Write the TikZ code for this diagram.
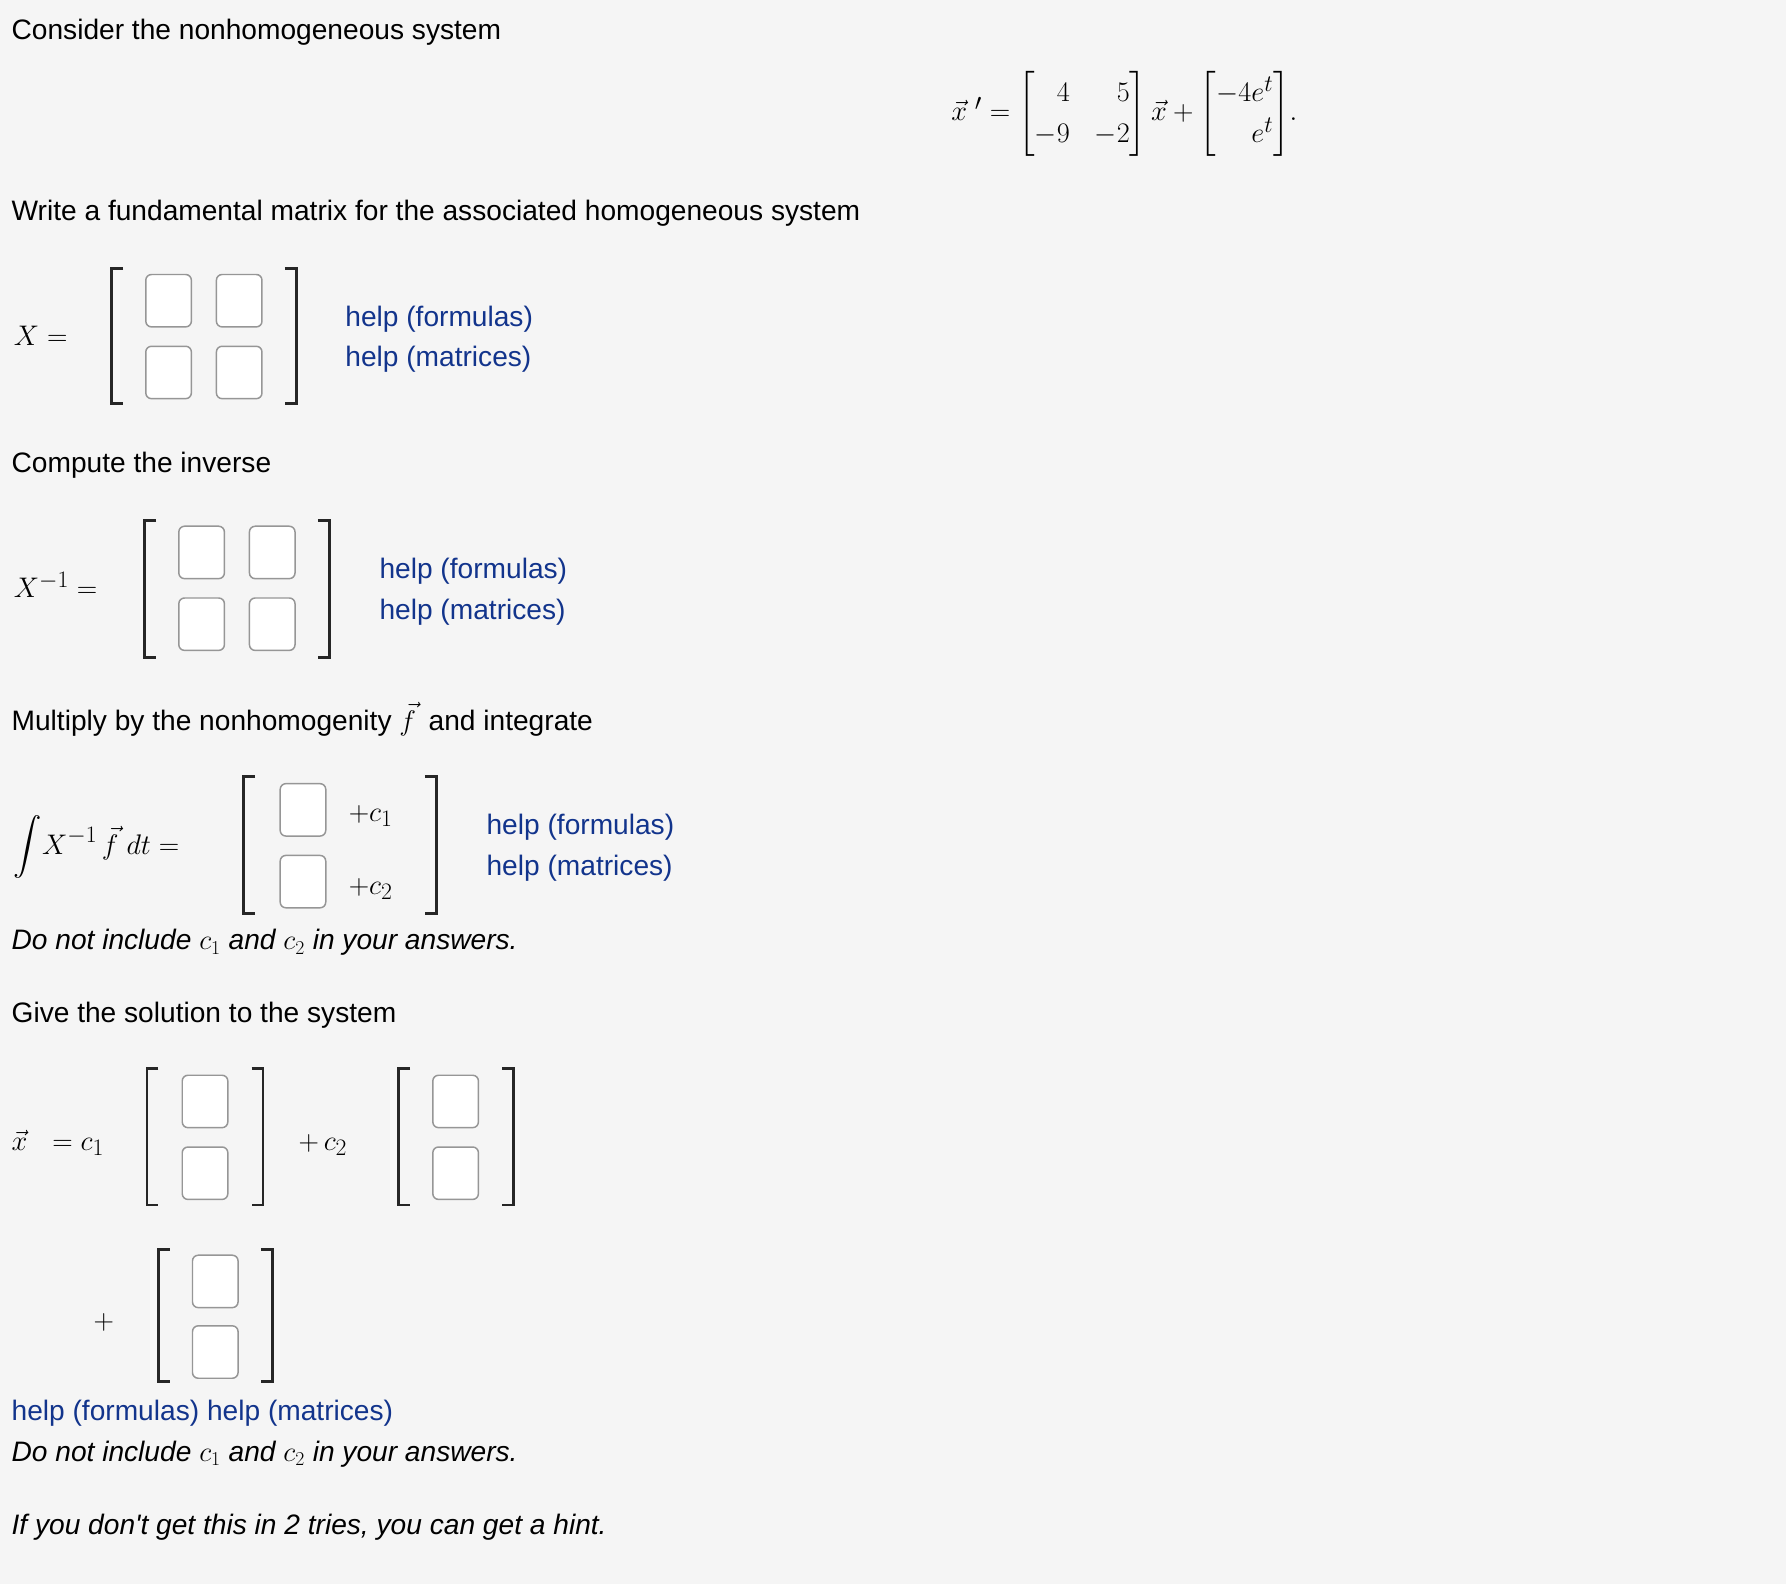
\documentclass[tikz,border=0pt]{standalone}
\usepackage{amsmath}
\usepackage{fontspec}
\setmainfont{Liberation Sans}
\definecolor{bg}{RGB}{245,245,245}
\definecolor{lnk}{RGB}{18,52,140}
\definecolor{bx}{RGB}{150,150,150}
\tikzset{
 ib/.style={draw=bx,line width=1.3pt,rounded corners=5pt,minimum width=40pt,minimum height=46pt,inner sep=0pt,fill=white},
 tx/.style={anchor=base west,inner sep=0pt,font=\fontsize{24.7}{29}\selectfont},
 mt/.style={anchor=base west,inner sep=0pt,font=\fontsize{29}{33}\selectfont},
 lk/.style={tx,text=lnk},
 brk/.style={line width=2.4pt,black!85}
}
\newcommand{\brk}[4]{% x1 x2 ytop ybot
 \draw[brk] (#1+10,#3)--(#1,#3)--(#1,#4)--(#1+10,#4);
 \draw[brk] (#2-10,#3)--(#2,#3)--(#2,#4)--(#2-10,#4);}
\begin{document}
\begin{tikzpicture}[x=1pt,y=-1pt]
\fill[bg] (0,0) rectangle (1568,1391);
\useasboundingbox (0,0) rectangle (1568,1391);
\node[tx] (t1) at (10,35) {Consider the nonhomogeneous system};
\node[anchor=west,inner sep=0pt,font=\fontsize{31}{36}\selectfont] (eq) at (835,100)
 {\setlength{\arraycolsep}{11pt}$\vec x\;'=\begin{bmatrix}\hfill4&\hfill5\\-9&-2\end{bmatrix}\vec x+\begin{bmatrix}-4e^t\\ \hfill e^t\end{bmatrix}\!.$};
\node[tx] (t2) at (10,194) {Write a fundamental matrix for the associated homogeneous system};
\node[mt] (l1) at (12,303) {$X=$};
\brk{98}{260}{236}{354}
\foreach \x/\y [count=\i] in {148/264,210/264,148/327,210/327} \node[ib] (a\i) at (\x,\y) {};
\node[lk] (h1) at (303,287) {help (formulas)};
\node[lk] (h2) at (303,322) {help (matrices)};
\node[tx] (t3) at (10,415) {Compute the inverse};
\node[mt] (l2) at (12,525) {$X^{-1}=$};
\brk{127}{289}{457}{577}
\foreach \x/\y [count=\i] in {177/485,239/485,177/548,239/548} \node[ib] (b\i) at (\x,\y) {};
\node[lk] (h3) at (333,508) {help (formulas)};
\node[lk] (h4) at (333,544) {help (matrices)};
\node[tx] (t4) at (10,641) {Multiply by the nonhomogenity $\vec f$\, and integrate};
\node[mt] (l3) at (12,750) {$\displaystyle\int\! X^{-1}\,\vec f\;dt=$};
\brk{214}{383}{682}{802}
\node[ib] (c1) at (266,711) {};
\node[ib] (c2) at (266,774) {};
\node[mt] (p1) at (306,721) {$+c_1$};
\node[mt] (p2) at (306,785) {$+c_2$};
\node[lk] (h5) at (427,733) {help (formulas)};
\node[lk] (h6) at (427,769) {help (matrices)};
\node[tx] (t5) at (10,834) {\itshape Do not include $c_1$ and $c_2$ in your answers.};
\node[tx] (t6) at (10,898) {Give the solution to the system};
\node[mt] (l4) at (10,1010) {$\vec x\ \;=c_1$};
\brk{129}{231}{938}{1058}
\node[ib] (d1) at (180,967) {};
\node[ib] (d2) at (180,1030) {};
\node[mt] (l5) at (262,1010) {$+\,c_2$};
\brk{350}{451}{938}{1058}
\node[ib] (e1) at (400,967) {};
\node[ib] (e2) at (400,1030) {};
\node[mt] (l6) at (82,1167) {$+$};
\brk{139}{239}{1097}{1213}
\node[ib] (f1) at (189,1125) {};
\node[ib] (f2) at (189,1187) {};
\node[lk] (h7) at (10,1247) {help (formulas) help (matrices)};
\node[tx] (t7) at (10,1283) {\itshape Do not include $c_1$ and $c_2$ in your answers.};
\node[tx] (t8) at (10,1347) {\itshape If you don\textquotesingle t get this in 2 tries, you can get a hint.};
\end{tikzpicture}
\end{document}
